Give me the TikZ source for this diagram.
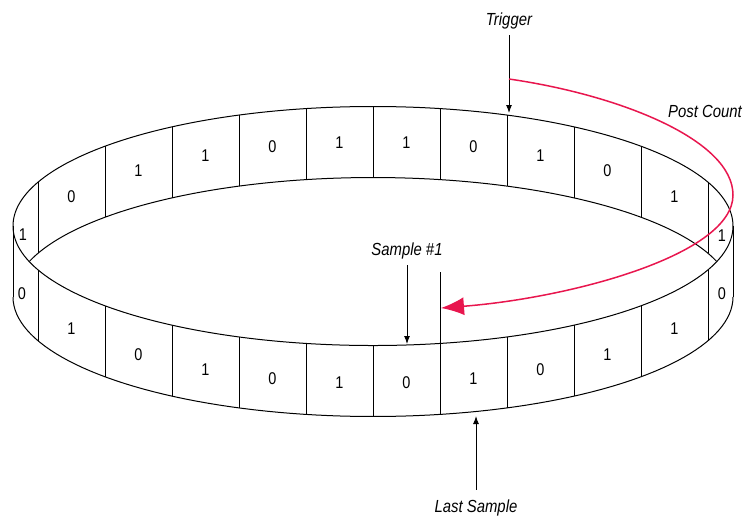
\documentclass[tikz,border=0pt]{standalone}
\usepackage{fontspec}
\newfontfamily\ringfont[FakeStretch=0.85]{Liberation Sans}
\usetikzlibrary{arrows.meta}
\definecolor{countred}{RGB}{232,22,78}

\begin{document}
\begin{tikzpicture}[
    x=0.5pt, y=-0.5pt,
    line width=0.5pt,
    lbl/.style={font=\ringfont\itshape\fontsize{8.75}{10}\selectfont, inner sep=0pt},
    digit/.style={font=\ringfont\fontsize{8.5}{10}\selectfont, inner sep=0pt},
    ptr/.style={-{Latex[length=4pt,width=3pt]}},
    count/.style={countred, line width=0.75pt, -{Latex[length=11.5pt,width=9pt]}}
  ]
  \useasboundingbox (0,0) rectangle (745,516);

  % ring: top edge, visible parts of the bottom edge, outer sides
  \draw (373,226) ellipse [x radius=360, y radius=119.5];
  \draw plot[domain=0:180, samples=90] ({373+360*cos(\x)}, {297+119.5*sin(\x)});
  \draw plot[domain=197.43:342.57, samples=90] ({373+360*cos(\x)}, {297+119.5*sin(\x)});
  \draw (13,226) -- (13,297);
  \draw (733,226) -- (733,297);

  % cell dividers, back and front
  \foreach \k in {-5,...,5} {
    \pgfmathsetmacro\dy{119.5*sqrt(1-(67*\k/360)^2)}
    \draw ({373+67*\k},{226-\dy}) -- ++(0,71);
    \draw ({373+67*\k},{226+\dy}) -- ++(0,71);
  }
  \coordinate (s1) at (440,272);
  \draw (s1) -- (440,344);

  % cell contents
  \foreach \i/\bk/\fr in {-5/0/1, -4/1/0, -3/1/1, -2/0/0, -1/1/1,
                          0/1/0, 1/0/1, 2/1/0, 3/0/1, 4/1/1} {
    \pgfmathsetmacro\cx{373+67*(\i+0.5)}
    \pgfmathsetmacro\dy{119.5*sqrt(1-((\cx-373)/360)^2)}
    \node[digit] (bk\i) at (\cx,{261.5-\dy}) {\bk};
    \node[digit] (fr\i) at (\cx,{263.5+\dy}) {\fr};
  }
  \node[digit] (bkl) at (23,235) {1};
  \node[digit] (frl) at (22,294) {0};
  \node[digit] (bkr) at (722,236) {1};
  \node[digit] (frr) at (722,294) {0};

  % labels and pointers
  \node[lbl, anchor=base] (trig) at (509,25) {Trigger};
  \node[lbl, anchor=base] (post) at (705,117) {Post Count};
  \node[lbl, anchor=base] (samp) at (407,255) {Sample \#1};
  \node[lbl, anchor=base] (last) at (476,512) {Last Sample};
  \coordinate (trig pt) at (509,113);
  \coordinate (samp pt) at (407,344);
  \coordinate (last pt) at (476,416);
  \draw[ptr, shorten <=3pt] (trig) -- (trig pt);
  \draw[ptr, shorten <=3pt] (samp) -- (samp pt);
  \draw[ptr, shorten <=4.5pt] (last) -- (last pt);

  % post count
  \coordinate (pc start) at (509,79);
  \coordinate (pc right) at (733,195);
  \coordinate (pc end) at (441,308);
  \draw[count] (pc start) .. controls (620,95) and (733,140) .. (pc right)
    .. controls (733,255) and (570,298) .. (pc end);
\end{tikzpicture}
\end{document}
